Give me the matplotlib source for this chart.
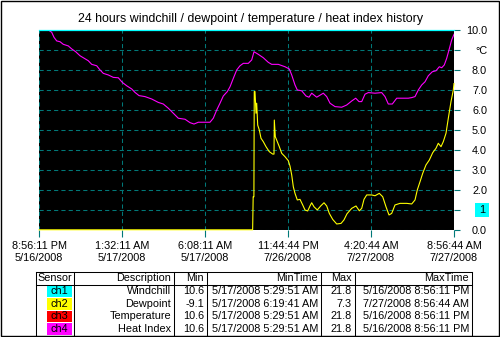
import numpy as np
import matplotlib
matplotlib.use("Agg")
import matplotlib.pyplot as plt
import matplotlib.transforms as mtransforms
from matplotlib.patches import Rectangle

plt.rcParams['font.family'] = ['Liberation Sans', 'DejaVu Sans']

# x axis: hours along the sampled record, one tick every 4h36m
tick_hours = [0, 4.6, 9.2, 13.8, 18.4, 23.0]
tick_labels = ['8:56:11 PM\n5/16/2008', '1:32:11 AM\n5/17/2008', '6:08:11 AM\n5/17/2008',
               '11:44:44 PM\n7/26/2008', '4:20:44 AM\n7/27/2008', '8:56:44 AM\n7/27/2008']

# windchill sits above the scale the whole time (drawn pinned to the top)
wind_t = [0.0, 8.56, 11.84, 11.93, 23.0]
wind_v = [21.8, 10.6, 14.5, 17.8, 19.5]

# heat index as plotted
heat_t = [0.0, 0.515, 0.704, 0.831, 0.981, 1.164, 1.347, 1.624, 1.812, 2.034, 2.272, 2.511,
          2.732, 2.921, 3.198, 3.381, 3.564, 3.841, 4.118, 4.395, 4.617, 4.861, 5.138, 5.320,
          5.542, 5.875, 6.246, 6.612, 6.889, 7.166, 7.443, 7.720, 8.092, 8.369, 8.590, 8.829,
          9.477, 9.660, 9.849, 10.031, 10.214, 10.436, 10.586, 10.769, 10.957, 11.140, 11.323,
          11.600, 11.788, 11.916, 12.154, 12.431, 12.708, 12.897, 13.263, 13.634, 13.872,
          14.005, 14.188, 14.315, 14.559, 14.798, 14.964, 15.114, 15.391, 15.756, 15.945,
          16.128, 16.405, 16.776, 17.053, 17.330, 17.552, 17.735, 17.885, 18.068, 18.251,
          18.622, 18.993, 19.176, 19.359, 19.581, 19.825, 20.468, 20.656, 20.839, 21.022,
          21.210, 21.393, 21.576, 21.797, 22.002, 22.185, 22.318, 22.462, 22.595, 22.723,
          22.872, 23.0]
heat_v = [10.9, 9.98, 9.86, 9.61, 9.43, 9.39, 9.26, 9.18, 9.03, 8.89, 8.69, 8.56,
          8.44, 8.26, 8.19, 7.98, 7.81, 7.73, 7.61, 7.59, 7.36, 7.19, 7.03, 6.86,
          6.70, 6.65, 6.53, 6.36, 6.28, 6.07, 5.82, 5.57, 5.52, 5.35, 5.28, 5.37,
          5.37, 5.57, 5.98, 6.32, 6.68, 6.90, 7.14, 7.56, 7.98, 8.19, 8.31,
          8.31, 8.48, 8.89, 8.76, 8.59, 8.36, 8.26, 8.26, 8.14, 8.03,
          7.73, 7.23, 6.98, 6.94, 6.68, 6.62, 6.82, 6.62, 6.82, 6.65,
          6.32, 6.15, 6.12, 6.23, 6.43, 6.57, 6.40, 6.40, 6.77, 6.85,
          6.82, 6.85, 6.65, 6.28, 6.28, 6.57, 6.57, 6.60, 6.65, 6.98,
          7.23, 7.39, 7.69, 7.89, 7.94, 8.14, 8.09, 8.23, 8.56, 8.98,
          9.48, 9.76]

# dewpoint, negative through the first night (pinned to the bottom)
dew_t = [0.0, 4.6, 9.39, 11.84, 11.87, 11.91, 11.93, 11.97, 12.027, 12.065, 12.121, 12.210,
         12.304, 12.431, 12.581, 12.764, 12.952, 13.024, 13.041, 13.096, 13.207, 13.318,
         13.451, 13.634, 13.817, 13.911, 14.005, 14.094, 14.188, 14.315, 14.465, 14.615,
         14.742, 14.892, 15.019, 15.114, 15.241, 15.424, 15.612, 15.795, 15.945, 16.089,
         16.277, 16.499, 16.74, 16.90, 17.07, 17.330, 17.569, 17.752, 17.885, 18.012,
         18.162, 18.439, 18.622, 18.860, 19.049, 19.231, 19.398, 19.547, 19.730, 20.007,
         20.379, 20.656, 20.839, 20.966, 21.116, 21.266, 21.448, 21.631, 21.820, 22.002,
         22.130, 22.280, 22.407, 22.557, 22.685, 22.834, 22.962, 23.0]
dew_v = [-3.0, -6.0, -9.1, -4.0, 1.65, 1.65, 6.90, 6.90, 5.82, 6.32, 5.23, 4.98,
         4.57, 4.40, 4.15, 3.90, 3.78, 3.78, 5.48, 4.65, 4.40, 4.15,
         3.82, 3.65, 3.45, 3.18, 2.74, 2.15, 1.82, 1.49, 1.52, 1.24,
         0.99, 0.94, 1.19, 1.35, 1.15, 0.99, 1.19, 1.35, 1.19, 0.82,
         0.52, 0.29, 0.32, 0.49, 0.80, 1.07, 1.19, 0.95, 1.07, 1.52,
         1.74, 1.74, 1.70, 1.82, 1.65, 1.15, 0.74, 0.82, 1.24, 1.32,
         1.32, 1.29, 1.49, 1.99, 2.40, 2.82, 3.24, 3.48, 3.85, 4.07,
         4.32, 4.15, 4.40, 4.82, 5.57, 6.40, 6.98, 7.3]

y_ticks = list(range(11))
y_labels = ['0.0', '', '2.0', '3.0', '4.0', '5.0', '6.0', '7.0', '8.0', '\u00b0C', '10.0']

sensors = ['ch1', 'ch2', 'ch3', 'ch4']
sensor_colors = ['#00ffff', '#ffff00', '#ff0000', '#ff00ff']
descriptions = ['Windchill', 'Dewpoint', 'Temperature', 'Heat Index']
mins = ['10.6', '-9.1', '10.6', '10.6']
min_times = ['5/17/2008 5:29:51 AM', '5/17/2008 6:19:41 AM', '5/17/2008 5:29:51 AM', '5/17/2008 5:29:51 AM']
maxs = ['21.8', '7.3', '21.8', '21.8']
max_times = ['5/16/2008 8:56:11 PM', '7/27/2008 8:56:44 AM', '5/16/2008 8:56:11 PM', '5/16/2008 8:56:11 PM']

W, H = 500, 337
fig = plt.figure(figsize=(W / 100, H / 100), dpi=100)
fig.patch.set_facecolor('white')

# overlay in pixel units for the frame and the summary table
page = fig.add_axes([0, 0, 1, 1], zorder=-1)
page.set_xlim(0, W)
page.set_ylim(H, 0)
page.axis('off')
page.add_patch(Rectangle((0.5, 0.5), W - 1.5, H - 1.5, fill=False, ec='black', lw=1.0))

ax = fig.add_axes([39 / W, 1 - 229.8 / H, 415 / W, 200.3 / H])
ax.set_facecolor('black')
ax.set_xlim(0, 23)
ax.set_ylim(0, 10)
for s in ax.spines.values():
    s.set_visible(False)

grid = '#007878'
ax.set_xticks(tick_hours)
ax.set_xticklabels(tick_labels, fontsize=7.8, linespacing=1.2)
ax.set_yticks(y_ticks)
ax.set_yticklabels(y_labels, fontsize=7.8)
ax.yaxis.tick_right()
ax.tick_params(axis='x', direction='out', length=5, width=0.8, color=grid, pad=3)
ax.tick_params(axis='y', direction='out', length=4.3, width=0.8, color=grid, pad=19.5)
for lab in ax.get_yticklabels():
    lab.set_horizontalalignment('right')
ax.grid(True, color=grid, lw=0.75, linestyle=(0, (4, 3)))
ax.set_axisbelow(True)

ax.plot(heat_t, heat_v, color='#ff00ff', lw=0.8, zorder=3)
ax.plot(dew_t, np.clip(dew_v, 0, None), color='#ffff00', lw=0.8, zorder=4, clip_on=False)
ax.plot(wind_t, np.clip(wind_v, None, 10), color='#00ffff', lw=0.9, zorder=5, clip_on=False)

# highlighted "1" marker on the right scale
tr = mtransforms.blended_transform_factory(ax.transAxes, ax.transData)
ax.add_patch(Rectangle((1.0506, 0.654), 0.0337, 0.669, transform=tr, fc='#00ffff',
                       ec='none', clip_on=False))
ax.text(1.0675, 1.0, '1', transform=tr, ha='center', va='center', fontsize=7.8, clip_on=False)

fig.text(250.5 / W, 1 - 19 / H, '24 hours windchill / dewpoint / temperature / heat index history',
         ha='center', va='center', fontsize=8.9)

# summary table
cols = [36, 74, 174, 207, 321, 355, 472]
top, head_bot, bottom = 272, 284.5, 335.5
row_h = (bottom - head_bot) / 4
lk = dict(color='black', lw=0.75)
page.plot([cols[0], cols[-1]], [top, top], **lk)
page.plot([cols[0], cols[-1]], [head_bot, head_bot], **lk)
page.plot([cols[0], cols[-1]], [bottom, bottom], **lk)
for c in cols:
    page.plot([c, c], [top, bottom], **lk)

fs = 7.8
page.text((cols[0] + cols[1]) / 2, (top + head_bot) / 2, 'Sensor', ha='center', va='center', fontsize=fs)
headers = ['Description', 'Min', 'MinTime', 'Max', 'MaxTime']
for i, h in enumerate(headers):
    page.text(cols[i + 2] - 3, (top + head_bot) / 2, h, ha='right', va='center', fontsize=fs)

for r in range(4):
    y0 = head_bot + r * row_h
    yc = y0 + row_h / 2
    page.add_patch(Rectangle((47, y0 + 0.5), 25, row_h - 1, fc=sensor_colors[r], ec='none'))
    page.text(59.5, yc, sensors[r], ha='center', va='center', fontsize=fs)
    cells = [descriptions[r], mins[r], min_times[r], maxs[r], max_times[r]]
    for i, txt in enumerate(cells):
        page.text(cols[i + 2] - 3, yc, txt, ha='right', va='center', fontsize=fs)

fig.savefig('out.png', dpi=100)
